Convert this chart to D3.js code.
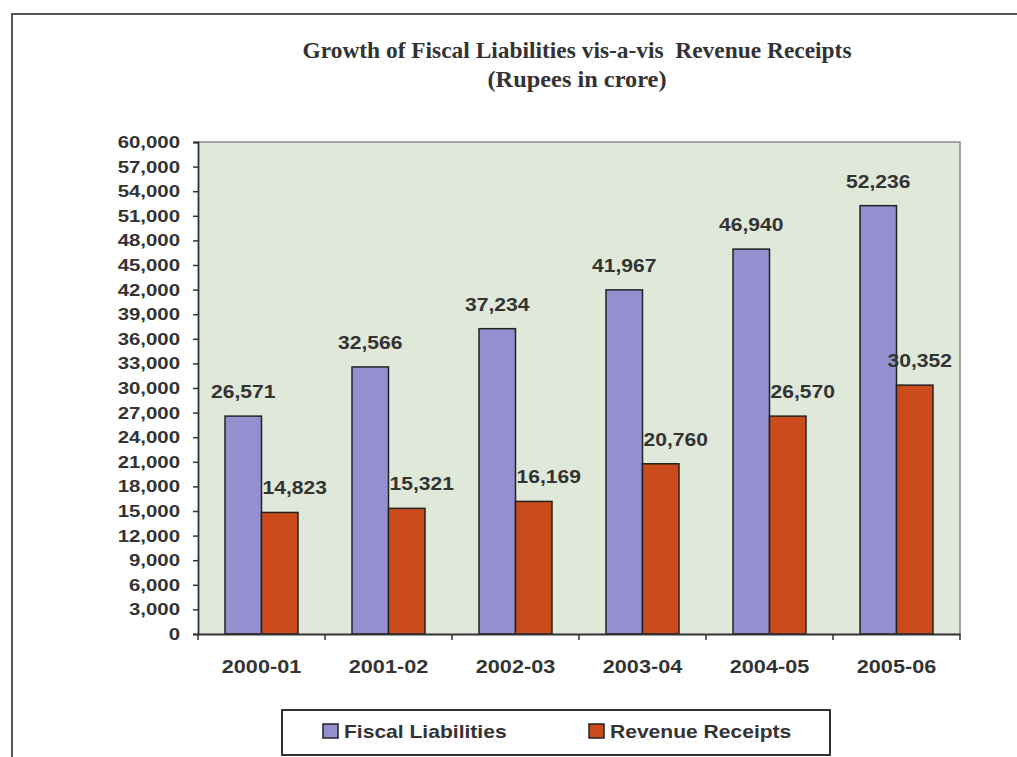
<!DOCTYPE html>
<html>
<head>
<meta charset="utf-8">
<script src="https://cdn.jsdelivr.net/npm/d3@7"></script>
<style>
  html, body { margin: 0; padding: 0; background: #ffffff; }
  svg { display: block; }
</style>
</head>
<body>
<svg id="chart" width="1017" height="757"></svg>
<script>
// ---- data ----
const categories = ["2000-01", "2001-02", "2002-03", "2003-04", "2004-05", "2005-06"];
const seriesNames = ["Fiscal Liabilities", "Revenue Receipts"];
const fiscalLiabilities = [26571, 32566, 37234, 41967, 46940, 52236];
const revenueReceipts = [14823, 15321, 16169, 20760, 26570, 30352];
const yTicks = [0, 3000, 6000, 9000, 12000, 15000, 18000, 21000, 24000, 27000, 30000,
                33000, 36000, 39000, 42000, 45000, 48000, 51000, 54000, 57000, 60000];
const titleLines = ["Growth of Fiscal Liabilities vis-a-vis  Revenue Receipts", "(Rupees in crore)"];

// ---- layout ----
const W = 1017, H = 757;
const plot = { left: 198, right: 960, top: 142, bottom: 634 };
const SX = 1.17; // horizontal stretch of the scanned text
const textColor = "#333";
const sansFont = "'Liberation Sans', Arial, sans-serif";

const svg = d3.select("#chart");

// outer frame
svg.append("rect")
  .attr("x", 12).attr("y", 14)
  .attr("width", W + 20).attr("height", H + 20)
  .attr("fill", "#fff").attr("stroke", "#555").attr("stroke-width", 2);

// title
const titleY = [58, 87];
const titleLen = [549, 179];
titleLines.forEach((t, i) => {
  svg.append("text")
    .attr("x", 577).attr("y", titleY[i])
    .attr("text-anchor", "middle")
    .style("white-space", "pre")
    .attr("font-family", "'Liberation Serif', 'Times New Roman', serif")
    .attr("font-weight", "bold")
    .attr("font-size", 22.5)
    .attr("fill", textColor)
    .attr("textLength", titleLen[i])
    .attr("lengthAdjust", "spacingAndGlyphs")
    .text(t);
});

// scales
const x0 = d3.scaleBand().domain(categories).range([plot.left, plot.right]).padding(0);
const x1 = d3.scaleBand().domain(seriesNames).range([0, x0.bandwidth()])
  .paddingInner(0).paddingOuter(0.74);
const y = d3.scaleLinear().domain([0, 60000]).range([plot.bottom, plot.top]);
const color = d3.scaleOrdinal().domain(seriesNames).range(["#9490cf", "#cc4b1c"]);

// plot background
svg.append("rect")
  .attr("x", plot.left).attr("y", plot.top)
  .attr("width", plot.right - plot.left).attr("height", plot.bottom - plot.top)
  .attr("fill", "#dfe8d9");
svg.append("path")
  .attr("d", `M${plot.left},${plot.top}H${plot.right}V${plot.bottom}`)
  .attr("fill", "none").attr("stroke", "#8a8a8a").attr("stroke-width", 1.5);

// bars
const rows = categories.map((c, i) => ({
  cat: c,
  vals: [
    { s: seriesNames[0], v: fiscalLiabilities[i] },
    { s: seriesNames[1], v: revenueReceipts[i] }
  ]
}));

const groups = svg.append("g").selectAll("g")
  .data(rows).join("g")
  .attr("transform", d => `translate(${x0(d.cat)},0)`);

groups.selectAll("rect")
  .data(d => d.vals).join("rect")
  .attr("x", d => x1(d.s))
  .attr("y", d => y(d.v))
  .attr("width", x1.bandwidth())
  .attr("height", d => y(0) - y(d.v))
  .attr("fill", d => color(d.s))
  .attr("stroke", "#222")
  .attr("stroke-width", 1.5);

// axes
const yAxis = d3.axisLeft(y).tickValues(yTicks).tickFormat(d3.format(",")).tickSize(5).tickPadding(13);
const gy = svg.append("g").attr("transform", `translate(${plot.left},0)`).call(yAxis);
gy.select(".domain").attr("stroke", "#333").attr("stroke-width", 1.8);
gy.selectAll(".tick line").attr("stroke", "#333").attr("stroke-width", 1.5);
gy.selectAll(".tick text")
  .attr("x", 0)
  .attr("transform", `translate(-18,0) scale(1.2,1)`)
  .attr("font-family", sansFont).attr("font-weight", "bold").attr("font-size", 17)
  .attr("fill", textColor);

const xAxis = d3.axisBottom(x0).tickSize(0).tickPadding(0);
const gx = svg.append("g").attr("transform", `translate(0,${plot.bottom})`).call(xAxis);
gx.select(".domain").attr("stroke", "#333").attr("stroke-width", 1.8);
gx.selectAll(".tick text")
  .attr("y", 0).attr("dy", 0)
  .attr("transform", `translate(0,39) scale(${SX},1)`)
  .attr("font-family", sansFont).attr("font-weight", "bold").attr("font-size", 18.5)
  .attr("fill", textColor);
// category boundary ticks
svg.append("g").selectAll("line")
  .data(categories.concat(["__end"])).join("line")
  .attr("x1", (d, i) => i < categories.length ? x0(d) : plot.right)
  .attr("x2", (d, i) => i < categories.length ? x0(d) : plot.right)
  .attr("y1", plot.bottom).attr("y2", plot.bottom + 6)
  .attr("stroke", "#333").attr("stroke-width", 1.5);

// value labels
const labels = groups.selectAll("text.val")
  .data(d => d.vals.map(v => ({ ...v, gx: x0(d.cat) }))).join("text")
  .attr("class", "val")
  .attr("text-anchor", "middle")
  .attr("font-family", sansFont).attr("font-weight", "bold").attr("font-size", 18)
  .attr("fill", textColor)
  .text(d => d3.format(",")(d.v));
labels.each(function (d) {
  const w = this.getComputedTextLength() * SX;
  let cx = x1(d.s) + x1.bandwidth() / 2;
  if (d.s === seriesNames[1]) {
    cx += 15;
    const maxRight = plot.right - 8 - d.gx;
    if (cx + w / 2 > maxRight) cx = maxRight - w / 2;
  }
  d3.select(this).attr("transform", `translate(${cx},${y(d.v) - 18}) scale(${SX},1)`);
});

// legend
const lg = svg.append("g");
lg.append("rect")
  .attr("x", 282).attr("y", 710).attr("width", 548).attr("height", 45)
  .attr("fill", "#fff").attr("stroke", "#333").attr("stroke-width", 2);
const lx = d3.scaleBand().domain(seriesNames).range([323, 855]);
const items = lg.selectAll("g.item").data(seriesNames).join("g")
  .attr("class", "item")
  .attr("transform", d => `translate(${lx(d)},0)`);
items.append("rect")
  .attr("x", 0).attr("y", 724).attr("width", 15).attr("height", 14)
  .attr("fill", d => color(d)).attr("stroke", "#222").attr("stroke-width", 1.5);
items.append("text")
  .attr("transform", `translate(21,738) scale(${SX},1)`)
  .attr("font-family", sansFont).attr("font-weight", "bold").attr("font-size", 18)
  .attr("fill", textColor)
  .text(d => d);
</script>
</body>
</html>
